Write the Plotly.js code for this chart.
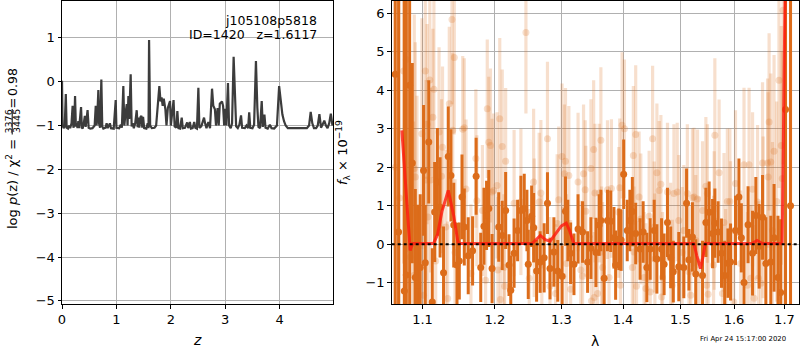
<!DOCTYPE html>
<html>
<head>
<meta charset="utf-8">
<script src="https://cdn.plot.ly/plotly-3.0.1.min.js"></script>
<style>html,body{margin:0;padding:0;background:#fff}#chart{width:800px;height:350px}</style>
</head>
<body>
<div id="chart"></div>
<script>
// ---------- left panel: log p(z) ----------
const zGrid = [0.00,0.01,0.03,0.05,0.07,0.085,0.11,0.13,0.15,0.175,0.195,0.21,0.225,0.24,0.255,0.27,0.285,0.30,0.315,0.35,
0.365,0.38,0.40,0.42,0.435,0.47,0.49,0.52,0.56,0.60,0.62,0.635,0.655,0.668,0.68,0.70,0.723,0.74,0.76,0.80,
0.82,0.84,0.88,0.90,0.95,0.987,1.00,1.05,1.08,1.10,1.127,1.145,1.165,1.19,1.205,1.22,1.235,1.262,1.28,1.30,
1.32,1.345,1.373,1.39,1.405,1.42,1.445,1.46,1.475,1.49,1.51,1.55,1.575,1.59,1.60,1.62,1.65,1.70,1.73,1.76,
1.789,1.81,1.83,1.85,1.87,1.90,1.92,1.945,1.965,1.985,2.00,2.02,2.05,2.07,2.10,2.12,2.14,2.17,2.20,2.22,
2.26,2.30,2.32,2.35,2.37,2.40,2.43,2.45,2.48,2.506,2.525,2.56,2.58,2.61,2.63,2.655,2.69,2.72,2.757,2.78,
2.81,2.83,2.86,2.88,2.90,2.92,2.94,2.96,2.98,3.00,3.02,3.05,3.07,3.10,3.125,3.154,3.18,3.20,3.23,3.26,
3.29,3.31,3.36,3.39,3.42,3.44,3.46,3.50,3.53,3.564,3.59,3.61,3.64,3.67,3.69,3.72,3.74,3.78,3.82,3.85,
3.90,3.95,3.99,4.02,4.05,4.08,4.11,4.15,4.20,4.30,4.40,4.50,4.54,4.57,4.60,4.63,4.67,4.70,4.73,4.76,
4.80,4.82,4.85,4.88,4.91,4.94,4.97];
const logPz = [0.02,-1.00,-1.06,-1.02,-0.28,-1.05,-1.07,-1.00,-1.06,-0.95,-0.55,-1.05,-0.98,-0.33,-1.02,-0.95,-1.06,-0.90,-1.06,-0.58,
-1.05,-1.07,-0.95,-0.78,-1.03,-0.65,-1.05,-1.07,-1.06,-1.00,-0.55,-1.00,-0.60,-0.19,-0.95,-1.05,0.05,-1.02,-1.07,-1.05,
-0.95,-1.06,-0.95,-1.06,-1.07,-0.42,-1.05,-1.06,-0.98,-1.05,-0.10,-1.00,-0.75,-0.51,-1.00,-0.33,-0.85,0.17,-1.02,-0.95,
-1.06,-0.95,-0.65,-1.04,-0.82,-1.05,-0.80,-0.78,-1.05,-0.80,-1.06,-1.07,-0.95,-1.06,0.95,-1.00,-1.06,-1.05,-1.00,-0.40,
-0.10,-0.45,-0.36,-0.55,-0.39,-0.63,-1.00,-0.60,-0.50,-0.44,-1.00,-0.80,-0.42,-1.02,-1.05,-0.67,-1.06,-1.07,-0.82,-1.06,
-1.05,-0.93,-1.06,-0.92,-1.07,-1.06,-0.92,-1.05,-1.07,-0.14,-1.05,-1.02,-0.95,-0.82,-0.95,-1.06,-0.92,-1.06,-0.16,-0.55,
-0.63,-1.00,-0.60,-1.00,-0.50,-0.48,-0.45,-0.55,-1.00,-0.62,-1.00,-0.03,-1.00,-1.06,-0.95,0.57,-0.50,-1.02,-1.06,-0.98,
-0.77,-1.05,-1.06,-1.00,-1.06,-0.70,-1.05,-1.06,-0.98,0.47,-0.60,-1.03,-1.06,-0.44,-1.03,-0.75,-1.05,-1.07,-0.98,-1.06,
-1.07,-1.00,-0.10,-0.50,-0.75,-0.90,-1.00,-1.06,-1.06,-1.06,-1.06,-1.06,-1.00,-0.69,-0.95,-1.06,-1.06,-1.00,-0.74,-1.05,
-0.95,-0.89,-1.00,-1.06,-0.95,-0.73,-1.00];
const zTicks = [0,1,2,3,4];
const pzTicks = [-5,-4,-3,-2,-1,0,1];

// ---------- right panel: spectrum ----------
const lamDark = [1.0645,1.0688,1.0762,1.0788,1.0831,1.0866,1.0905,1.0935,1.0970,1.1014,
1.1037,1.1083,1.1130,1.1162,1.1199,1.1235,1.1282,1.1346,1.1383,1.1421,
1.1466,1.1498,1.1535,1.1567,1.1622,1.1683,1.1733,1.1798,1.1844,1.1881,
1.1913,1.1960,1.2056,1.2107,1.2157,1.2206,1.2232,1.2281,1.2333,1.2382,
1.2432,1.2472,1.2492,1.2543,1.2573,1.2618,1.2672,1.2733,1.2784,1.2823,
1.2883,1.2943,1.3010,1.3064,1.3101,1.3145,1.3198,1.3263,1.3335,1.3416,
1.3470,1.3551,1.3604,1.3632,1.3686,1.3741,1.3794,1.3848,1.3876,1.3929,
1.3968,1.4011,1.4071,1.4116,1.4158,1.4215,1.4290,1.4343,1.4407,1.4465,
1.4535,1.4582,1.4664,1.4709,1.4769,1.4826,1.4873,1.4971,1.5062,1.5112,
1.5155,1.5219,1.5280,1.5405,1.5467,1.5528,1.5592,1.5635,1.5696,1.5760,
1.5821,1.5883,1.5933,1.6028,1.6094,1.6141,1.6193,1.6272,1.6360,1.6425,
1.6491,1.6558,1.6624,1.6723,1.6789,1.6868,1.6922,1.7022,1.7125];
const fluxDark = [4.42,0.32,-1.21,-0.80,4.13,2.11,-0.86,-1.07,-0.60,1.92,
-0.48,2.66,-1.50,0.84,1.62,0.96,-0.74,2.28,1.79,0.50,
-0.54,-0.43,1.23,0.45,-0.30,-0.17,1.77,-0.60,0.47,0.75,
0.93,-0.63,0.45,0.23,0.88,-0.54,-1.19,-0.23,0.36,0.88,
0.93,0.62,-0.52,0.73,0.43,-0.69,-0.46,-0.35,1.07,-0.63,
-0.20,-0.69,-0.83,0.86,0.36,-0.23,-0.52,0.40,0.32,-0.46,
-0.10,-0.21,0.50,0.62,-0.88,0.62,0.60,0.17,-0.54,0.13,
0.11,1.82,0.36,0.62,0.85,0.28,-0.12,0.32,-0.60,-0.12,
0.36,-0.38,-0.12,-0.52,0.57,-0.34,-0.71,-0.58,-0.60,1.07,
-0.40,0.19,-0.77,-0.81,0.57,0.83,0.28,0.55,0.32,-0.23,
-0.81,-0.49,-0.46,0.36,1.23,0.17,-0.99,0.51,-0.23,0.75,
-0.05,0.70,-0.50,-0.46,0.17,-0.86,-1.25,3.50,1.00];
const errDark = [9,9,9,9,9,2.6,2.3,2.1,1.9,1.7,
1.5,1.6,1.4,1.3,1.4,1.3,1.2,1.3,1.2,1.1,
1.1,1.0,1.1,1.0,1.0,0.9,1.0,0.9,1.0,0.9,
1.0,0.9,0.9,0.9,1.0,0.8,0.9,0.9,0.8,0.9,
0.9,0.8,0.9,0.8,0.9,0.8,0.8,0.9,0.8,0.8,
0.9,0.8,0.8,0.9,0.8,0.8,0.8,0.9,0.8,0.8,
0.8,0.9,0.8,0.8,0.9,0.8,0.8,0.8,0.9,0.8,
0.8,0.9,0.8,0.8,0.9,0.8,0.8,0.8,0.9,0.8,
0.8,0.9,0.8,0.8,0.9,0.8,0.8,0.9,0.8,0.9,
0.8,0.9,0.9,0.9,0.9,0.8,0.9,0.9,0.8,0.9,
0.9,0.9,1.0,0.9,1.0,0.9,1.0,1.0,1.1,1.0,
1.1,1.1,1.2,1.2,1.4,1.6,1.9,9,9];

const lamLight = [1.0648,1.0700,1.0753,1.0788,1.0840,1.0883,1.0892,1.0905,1.0927,1.0992,
1.1014,1.1037,1.1048,1.1061,1.1072,1.1097,1.1107,1.1138,1.1152,1.1176,
1.1221,1.1255,1.1268,1.1314,1.1338,1.1360,1.1397,1.1407,1.1429,1.1439,
1.1545,1.1567,1.1591,1.1660,1.1729,1.1743,1.1822,1.1867,1.1891,1.1913,
1.1937,1.1960,1.1982,1.2032,1.2044,1.2071,1.2081,1.2107,1.2131,1.2142,
1.2157,1.2281,1.2382,1.2457,1.2507,1.2573,1.2582,1.2657,1.2683,1.2698,
1.2784,1.2823,1.2909,1.2934,1.2958,1.3010,1.3023,1.3047,1.3064,1.3080,
1.3117,1.3145,1.3263,1.3307,1.3335,1.3351,1.3377,1.3388,1.3470,1.3478,
1.3514,1.3523,1.3535,1.3578,1.3604,1.3632,1.3645,1.3660,1.3741,1.3767,
1.3806,1.3929,1.3945,1.3957,1.3984,1.4024,1.4158,1.4175,1.4186,1.4215,
1.4229,1.4273,1.4303,1.4360,1.4390,1.4447,1.4465,1.4507,1.4535,1.4547,
1.4582,1.4622,1.4652,1.4666,1.4681,1.4769,1.4826,1.4856,1.4884,1.4943,
1.4971,1.5032,1.5062,1.5126,1.5155,1.5187,1.5219,1.5249,1.5280,1.5312,
1.5342,1.5405,1.5467,1.5482,1.5495,1.5510,1.5611,1.5622,1.5635,1.5715,
1.5778,1.5808,1.5840,1.5872,1.5920,1.5933,1.5995,1.6028,1.6127,1.6193,
1.6260,1.6292,1.6326,1.6360,1.6391,1.6459,1.6475,1.6525,1.6558,1.6570,
1.6658,1.6669,1.6689,1.6723,1.6757,1.6789,1.6842,1.6888,1.6935,1.6955,
1.6971];
const fluxLight = [2.0,1.2,4.5,4.8,-0.33,-0.81,1.97,1.75,0.36,2.87,
-1.32,4.5,1.67,3.12,0.71,4.27,1.67,3.3,4.03,-0.43,
2.92,1.77,2.52,0.45,-1.41,3.65,5.84,2.96,4.85,-0.21,
2.99,3.03,1.44,-0.76,2.23,1.13,0.88,-0.93,3.52,2.65,
2.57,1.36,1.40,1.53,-0.67,3.26,-1.43,2.54,-0.60,-1.09,
2.16,1.07,1.10,5.50,-0.88,1.62,0.43,1.10,1.33,-0.54,
2.74,-1.09,-1.28,0.54,1.16,2.28,-0.83,1.83,2.16,-0.50,
1.79,-1.17,1.62,-0.67,-0.83,1.83,1.42,0.86,1.97,-1.47,
2.46,-1.38,1.33,-1.28,1.33,2.70,-0.20,-0.60,1.42,-0.86,
1.45,0.83,1.47,-1.06,3.09,3.00,-0.60,2.31,-0.20,2.85,
-1.09,1.23,0.66,-0.86,-1.15,0.73,-1.24,2.74,0.45,-0.38,
1.86,1.40,1.56,-1.37,-0.86,1.36,-0.10,-1.06,1.32,1.36,
0.62,-0.21,0.36,1.32,-0.71,-1.32,1.21,1.23,0.10,1.18,
-0.46,0.88,1.51,-1.06,1.32,-1.30,-0.54,0.62,2.83,1.86,
-1.28,0.57,-0.88,1.11,1.11,0.36,-1.50,1.58,-0.50,2.07,
-1.06,2.07,-0.88,1.43,-1.40,1.10,-0.88,-1.01,2.11,0.70,
2.11,1.75,3.18,2.14,0.36,2.42,1.11,4.26,2.57,1.71,
6.08];
const errLight = [6,6,5,5,4,4,4,3.5,3.5,3,
3,2.8,2.6,2.6,2.5,2.5,2.4,2.3,2.3,2.2,
2.2,2.0,2.1,2.0,2.0,2.0,2.2,2.0,2.0,1.9,
1.9,1.8,1.8,1.8,1.8,1.7,1.7,1.7,1.8,1.7,
2.0,1.9,2.0,1.9,1.9,2.1,1.9,2.0,1.9,1.9,
1.9,1.9,1.9,2.1,1.8,1.9,1.8,1.8,1.9,1.8,
2.0,1.8,1.8,1.8,1.9,1.9,1.8,1.8,1.9,1.8,
1.8,1.8,1.8,1.8,1.7,1.8,1.8,1.7,1.8,1.7,
1.8,1.7,1.8,1.7,1.8,1.9,1.7,1.7,1.8,1.7,
1.8,1.7,1.8,1.7,1.9,1.8,1.7,1.8,1.7,1.8,
1.7,1.7,1.7,1.7,1.7,1.7,1.7,1.9,1.7,1.7,
1.8,1.8,1.8,1.7,1.7,1.8,1.7,1.7,1.8,1.8,
1.7,1.7,1.7,1.8,1.7,1.7,1.8,1.8,1.7,1.8,
1.7,1.8,1.8,1.7,1.8,1.7,1.8,1.8,2.0,1.9,
1.8,1.8,1.8,1.9,1.9,1.8,1.8,1.9,1.9,2.0,
1.9,2.0,1.9,2.0,1.9,2.0,2.0,2.0,2.1,2.1,
2.2,2.2,2.3,2.3,2.3,2.5,2.6,2.8,3.1,3.3,
4];

const lamModel = [1.0730,1.0838,1.0870,1.1146,1.1200,1.1260,1.1346,1.1420,1.1480,1.1520,
1.2550,1.2620,1.2675,1.2750,1.2824,1.2900,1.3000,1.3076,1.3130,1.3196,
1.5245,1.5300,1.5368,1.5410,1.5457,1.6350,1.6450,1.6550,1.6953,1.7017];
const fluxModel = [2.96,-0.16,0.02,0.02,0.25,0.85,1.40,0.75,0.05,0.02,
0.02,0.15,0.23,0.12,0.08,0.25,0.48,0.55,0.35,0.02,
0.02,-0.30,-0.63,-0.35,0.02,0.02,0.10,0.02,0.02,7.0];
const lamRange = [1.06,1.73];
const lamTicks = [1.1,1.2,1.3,1.4,1.5,1.6,1.7];
const fluxTicks = [-1,0,1,2,3,4,5,6];

const DARK = 'rgb(220,108,26)';
const LIGHT = 'rgba(220,108,26,0.22)';
const FONT = 'DejaVu Sans, sans-serif';

const traces = [
  {x: zGrid, y: logPz, type:'scatter', mode:'lines', xaxis:'x', yaxis:'y',
   line:{color:'#3c3c3c', width:2.2}, hoverinfo:'skip'},
  {x: lamLight, y: fluxLight, type:'scatter', mode:'markers', xaxis:'x2', yaxis:'y2',
   marker:{color:LIGHT, size:7},
   error_y:{type:'data', array: errLight, visible:true, color:LIGHT, thickness:3.2, width:0}},
  {x: lamDark, y: fluxDark, type:'scatter', mode:'markers', xaxis:'x2', yaxis:'y2',
   marker:{color:DARK, size:7},
   error_y:{type:'data', array: errDark, visible:true, color:DARK, thickness:3, width:0}},
  {x: lamModel, y: fluxModel, type:'scatter', mode:'lines', xaxis:'x2', yaxis:'y2',
   line:{color:'rgba(255,25,15,0.8)', width:3}},
  {x: lamRange, y: [0,0], type:'scatter', mode:'lines', xaxis:'x2', yaxis:'y2',
   line:{color:'#000', width:2, dash:'dot'}}
];

const axBase = {
  showline:true, linecolor:'#000', linewidth:1, mirror:true,
  ticks:'outside', ticklen:3.5, tickcolor:'#000', tickwidth:1,
  showgrid:true, gridcolor:'#b0b0b0', gridwidth:1, zeroline:false,
  tickfont:{family:FONT, size:13, color:'#000'}
};

const yTop = 1 - 1/350, yBot = 1 - 304/350;
const layout = {
  width:800, height:350, margin:{l:0,r:0,t:0,b:0},
  paper_bgcolor:'#fff', plot_bgcolor:'#fff', showlegend:false,
  font:{family:FONT, size:13, color:'#000'},
  xaxis: Object.assign({}, axBase, {domain:[62/800, 333/800], range:[0,4.98],
    tickvals: zTicks, anchor:'y'}),
  yaxis: Object.assign({}, axBase, {domain:[yBot, yTop], range:[-5.07,1.84],
    tickvals: pzTicks, anchor:'x'}),
  xaxis2: Object.assign({}, axBase, {domain:[391.7/800, 799/800], type:'log',
    range:[Math.log10(lamRange[0]), Math.log10(lamRange[1])],
    tickvals: lamTicks, ticktext: lamTicks.map(v=>v.toFixed(1)), anchor:'y2'}),
  yaxis2: Object.assign({}, axBase, {domain:[yBot, yTop], range:[-1.55,6.32],
    tickvals: fluxTicks, anchor:'x2'}),
  annotations: [
    {text:'j105108p5818', xref:'paper', yref:'paper', x:319/800, y:1-20/350,
     xanchor:'right', yanchor:'middle', showarrow:false, font:{size:12.5}},
    {text:'ID=1420   z=1.6117', xref:'paper', yref:'paper', x:319/800, y:1-35/350,
     xanchor:'right', yanchor:'middle', showarrow:false, font:{size:12.5}},
    {text:'<i>z</i>', xref:'paper', yref:'paper', x:197/800, y:1-340/350,
     xanchor:'center', yanchor:'middle', showarrow:false, font:{size:14}},
    {text:'λ', xref:'paper', yref:'paper', x:595/800, y:1-341/350,
     xanchor:'center', yanchor:'middle', showarrow:false, font:{size:14}},
    // left y title: main part, fraction, value
    {text:'log <i>p</i>(z) / χ<sup>2</sup> =', xref:'paper', yref:'paper', x:12/800, y:1-231/350,
     textangle:-90, xanchor:'center', yanchor:'bottom', showarrow:false, font:{size:13}},
    {text:'3376', xref:'paper', yref:'paper', x:8/800, y:1-121.5/350,
     textangle:-90, xanchor:'center', yanchor:'middle', showarrow:false, font:{size:9.5}},
    {text:'3445', xref:'paper', yref:'paper', x:16.5/800, y:1-121.5/350,
     textangle:-90, xanchor:'center', yanchor:'middle', showarrow:false, font:{size:9.5}},
    {text:'=', xref:'paper', yref:'paper', x:12/800, y:1-103.5/350,
     textangle:-90, xanchor:'center', yanchor:'middle', showarrow:false, font:{size:13}},
    {text:'0.98', xref:'paper', yref:'paper', x:12/800, y:1-66/350,
     textangle:-90, xanchor:'center', yanchor:'top', showarrow:false, font:{size:12.5}},
    {text:'<i>f</i><sub>λ</sub> × 10<sup>−19</sup>', xref:'paper', yref:'paper', x:343/800, y:1-153/350,
     textangle:-90, xanchor:'center', yanchor:'middle', showarrow:false, font:{size:13}},
    {text:'Fri Apr 24 15:17:00 2020', xref:'paper', yref:'paper', x:788/800, y:1-339/350,
     xanchor:'right', yanchor:'middle', showarrow:false, font:{size:6.9}}
  ],
  shapes: [
    {type:'line', xref:'paper', yref:'paper', x0:12.2/800, x1:12.2/800, y0:1-134.5/350, y1:1-109/350,
     line:{color:'#000', width:1}}
  ]
};

Plotly.newPlot('chart', traces, layout, {staticPlot:true, displayModeBar:false});
</script>
</body>
</html>
